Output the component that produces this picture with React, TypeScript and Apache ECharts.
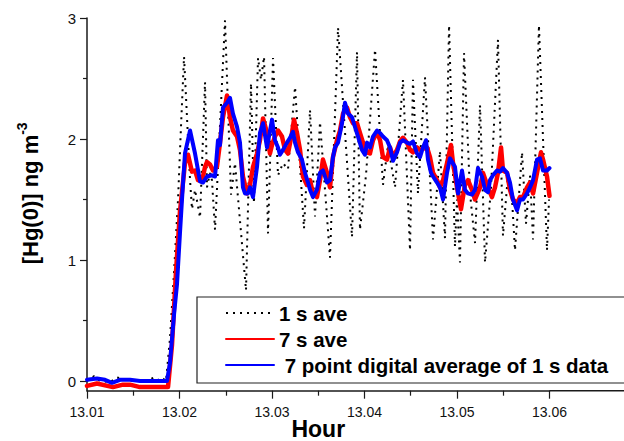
import React, { useEffect, useRef } from "react";
import * as echarts from "echarts";

// ---- 1 s data (turning points) ----
const oneSecHours = [
  13.01, 13.01076, 13.01141, 13.01249, 13.01324, 13.01411, 13.01519, 13.01627, 13.01735, 13.01789,
  13.01822, 13.01854, 13.01897, 13.01941, 13.01984, 13.02016, 13.02049, 13.02114, 13.02135, 13.02168,
  13.02222, 13.02276, 13.02297, 13.0233, 13.02351, 13.02384, 13.02492, 13.02557, 13.026, 13.02719,
  13.02773, 13.02805, 13.02849, 13.02881, 13.02914, 13.02957, 13.03011, 13.03065, 13.03119, 13.03173,
  13.03249, 13.03346, 13.03411, 13.03465, 13.03519, 13.03627, 13.03714, 13.03865, 13.03919, 13.03951,
  13.04016, 13.04114, 13.042, 13.04254, 13.0433, 13.04416, 13.04492, 13.04524, 13.04578, 13.04654,
  13.04741, 13.04816, 13.0487, 13.04914, 13.04978, 13.05, 13.05032, 13.05076, 13.05141, 13.05195,
  13.05249, 13.05303, 13.05368, 13.05443, 13.05497, 13.05551, 13.05595, 13.05627, 13.05703, 13.05746,
  13.05789, 13.05822, 13.05886, 13.05973, 13.05995,
];
const oneSecValues = [
  0.0, 0.04, 0.0, -0.01, 0.03, 0.01, 0.0, 0.0, 0.03, 0.0,
  0.02, 0.0, 0.35, 0.9, 1.5, 2.1, 2.68, 1.66, 1.42, 1.58,
  1.35, 2.47, 1.6, 1.72, 1.66, 1.25, 2.98, 1.54, 1.8, 0.75,
  2.46, 1.47, 2.67, 2.49, 2.68, 1.22, 2.67, 1.7, 1.8, 1.75,
  2.43, 1.26, 2.24, 1.36, 2.14, 1.02, 2.92, 1.19, 2.72, 1.25,
  1.7, 2.74, 1.62, 1.95, 1.6, 2.49, 1.08, 2.49, 1.55, 2.51,
  1.17, 1.9, 1.18, 2.94, 1.11, 1.5, 0.98, 2.71, 1.55, 1.14,
  2.28, 0.98, 1.6, 2.82, 1.2, 1.7, 1.5, 1.08, 1.89, 1.3,
  1.7, 1.17, 2.94, 1.08, 1.5,
];

// ---- 7 s average ----
const sevenSecHours = [
  13.01, 13.01108, 13.01281, 13.01389, 13.01465, 13.01573, 13.01876, 13.01919, 13.01962, 13.02005,
  13.02059, 13.02092, 13.02135, 13.02168, 13.022, 13.02243, 13.02276, 13.02297, 13.0233, 13.02362,
  13.02405, 13.02438, 13.0247, 13.02514, 13.02546, 13.02578, 13.02622, 13.02654, 13.02686, 13.0273,
  13.02762, 13.02795, 13.02838, 13.0287, 13.02903, 13.02946, 13.02978, 13.03, 13.03032, 13.03065,
  13.03108, 13.03141, 13.03173, 13.03216, 13.03238, 13.0327, 13.03303, 13.03335, 13.03378, 13.03411,
  13.03443, 13.03486, 13.03519, 13.03551, 13.03595, 13.03627, 13.03659, 13.03703, 13.03735, 13.03768,
  13.03811, 13.03843, 13.03876, 13.03919, 13.03951, 13.03984, 13.04027, 13.04059, 13.04092, 13.04135,
  13.04168, 13.042, 13.04243, 13.04276, 13.04308, 13.04351, 13.04384, 13.04416, 13.04459, 13.04492,
  13.04524, 13.04568, 13.046, 13.04676, 13.04708, 13.04741, 13.04784, 13.04816, 13.04849, 13.04892,
  13.04935, 13.04957, 13.05, 13.05043, 13.05086, 13.05119, 13.05162, 13.05195, 13.05249, 13.05281,
  13.05335, 13.05378, 13.05411, 13.05443, 13.05476, 13.05497, 13.05541, 13.05573, 13.05605, 13.05649,
  13.05681, 13.05714, 13.05757, 13.05789, 13.05822, 13.05865, 13.05908, 13.0593, 13.05973, 13.06,
];
const sevenSecValues = [
  -0.04, -0.02, -0.05, -0.03, -0.03, -0.05, -0.05, 0.3, 0.9, 1.4,
  1.8, 1.87, 1.73, 1.74, 1.66, 1.65, 1.77, 1.81, 1.79, 1.74,
  1.77, 1.97, 2.18, 2.36, 2.18, 2.07, 2.02, 1.91, 1.69, 1.55,
  1.62, 1.77, 1.88, 1.99, 2.17, 2.05, 1.88, 1.95, 2.02, 2.07,
  2.02, 1.91, 1.88, 2.05, 2.16, 2.05, 1.91, 1.69, 1.62, 1.66,
  1.55, 1.52, 1.66, 1.83, 1.72, 1.6, 1.85, 1.99, 2.07, 2.21,
  2.26, 2.18, 2.13, 2.13, 2.05, 1.97, 1.89, 1.88, 1.99, 2.06,
  1.99, 1.85, 1.83, 1.93, 1.85, 1.91, 1.98, 2.01, 1.97, 1.91,
  1.89, 1.93, 1.91, 1.93, 1.85, 1.72, 1.66, 1.6, 1.66, 1.8,
  1.95, 1.8, 1.6, 1.42, 1.62, 1.66, 1.58, 1.5, 1.6, 1.72,
  1.6, 1.52, 1.6, 1.72, 1.93, 1.74, 1.72, 1.58, 1.5, 1.47,
  1.52, 1.52, 1.6, 1.64, 1.55, 1.72, 1.89, 1.83, 1.69, 1.53,
];

// ---- 7 point digital average of 1 s data ----
const digitalHours = [
  13.01, 13.01108, 13.01195, 13.0127, 13.01357, 13.01465, 13.01573, 13.01865, 13.01897, 13.01941,
  13.01973, 13.02005, 13.02027, 13.02059, 13.02114, 13.02168, 13.02222, 13.02254, 13.02297, 13.02351,
  13.02384, 13.02416, 13.02438, 13.0247, 13.02514, 13.02546, 13.02578, 13.02622, 13.02654, 13.02686,
  13.02708, 13.02741, 13.02762, 13.02795, 13.02838, 13.0287, 13.02903, 13.02946, 13.03, 13.03032,
  13.03065, 13.03086, 13.03119, 13.03162, 13.03195, 13.03227, 13.03249, 13.03281, 13.03324, 13.03357,
  13.03389, 13.03411, 13.03443, 13.03486, 13.03519, 13.03551, 13.03595, 13.03627, 13.03659, 13.03681,
  13.03714, 13.03757, 13.03789, 13.03822, 13.03865, 13.03897, 13.0393, 13.03973, 13.04005, 13.04027,
  13.04059, 13.04092, 13.04135, 13.04168, 13.042, 13.04243, 13.04276, 13.04308, 13.04351, 13.04384,
  13.04416, 13.04459, 13.04492, 13.04524, 13.04568, 13.046, 13.04632, 13.04665, 13.04686, 13.04719,
  13.04741, 13.04784, 13.04816, 13.04849, 13.04892, 13.04924, 13.04978, 13.05011, 13.05054, 13.05086,
  13.05119, 13.05162, 13.05195, 13.05227, 13.0527, 13.05303, 13.05335, 13.05357, 13.05389, 13.05432,
  13.05465, 13.05497, 13.05541, 13.05573, 13.05605, 13.05649, 13.05681, 13.05714, 13.05757, 13.05789,
  13.05822, 13.05865, 13.05897, 13.0593, 13.05973, 13.06,
];
const digitalValues = [
  0.01, 0.02, 0.01, -0.015, 0.01, 0.01, 0.0, 0.0, 0.15, 0.55,
  0.8, 1.22, 1.5, 1.88, 2.07, 1.88, 1.65, 1.64, 1.69, 1.7,
  1.69, 1.99, 1.95, 2.26, 2.3, 2.34, 2.21, 2.1, 1.97, 1.6,
  1.55, 1.55, 1.6, 1.52, 1.77, 2.05, 2.13, 1.93, 2.16, 1.99,
  1.93, 1.87, 1.91, 1.97, 2.01, 2.06, 1.97, 1.89, 1.83, 1.72,
  1.64, 1.58, 1.52, 1.58, 1.72, 1.74, 1.64, 1.66, 1.85, 1.93,
  1.97, 2.13, 2.3, 2.21, 2.18, 2.1, 2.02, 1.91, 1.87, 1.97,
  1.93, 2.02, 2.07, 2.05, 2.02, 1.99, 1.93, 1.82, 1.89, 1.97,
  1.99, 1.97, 1.96, 1.98, 1.88, 1.85, 1.93, 1.99, 1.83, 1.72,
  1.69, 1.64, 1.6, 1.5, 1.72, 1.84, 1.77, 1.55, 1.74, 1.58,
  1.55, 1.54, 1.58, 1.76, 1.69, 1.58, 1.56, 1.66, 1.7, 1.74,
  1.73, 1.76, 1.72, 1.64, 1.5, 1.41, 1.5, 1.5, 1.55, 1.6,
  1.66, 1.83, 1.84, 1.74, 1.74, 1.76,
];

const xTickValues = [13.01, 13.02, 13.03, 13.04, 13.05, 13.06];
const xMinorTickValues = [13.015, 13.025, 13.035, 13.045, 13.055];
const yTickValues = [0, 1, 2, 3];
const yMinorTickValues = [0.5, 1.5, 2.5];
const seriesNames = ["1 s ave", "7 s ave", " 7 point digital average of 1 s data"];

const pairs = (xs: number[], ys: number[]) => xs.map((x, i) => [x, ys[i]]);

const FONT = '"Liberation Sans", Arial, Helvetica, sans-serif';
const AXIS = "#1a1a1a";

export default function App() {
  const ref = useRef<HTMLDivElement>(null);
  useEffect(() => {
    if (!ref.current) return;
    const chart = echarts.init(ref.current, undefined, { renderer: "svg" });
    const gridLeft = 87;
    const gridTop = 18;
    const gridRight = 74.5;
    const gridBottom = 50.3;
    const axisY = 441 - gridBottom;
    chart.setOption({
      animation: false,
      backgroundColor: "#ffffff",
      grid: {
        left: gridLeft,
        right: gridRight,
        top: gridTop,
        bottom: gridBottom,
        containLabel: false,
        outerBoundsMode: "none",
      },
      xAxis: [
        {
          type: "value",
          min: 13.01,
          max: 13.06,
          position: "bottom",
          axisLine: { show: true, onZero: false, lineStyle: { color: AXIS, width: 1.5 } },
          axisTick: { show: true, customValues: xTickValues, length: 8, lineStyle: { color: AXIS, width: 1.2 } },
          axisLabel: {
            customValues: xTickValues,
            formatter: (v: number) => v.toFixed(2),
            fontSize: 14,
            color: "#111",
            margin: 14,
            fontFamily: FONT,
          },
          splitLine: { show: false },
          name: "Hour",
          nameLocation: "middle",
          nameGap: 26,
          nameMoveOverlap: false,
          nameTextStyle: { fontSize: 23, fontWeight: "bold", color: "#000", fontFamily: FONT, lineHeight: 24 },
        },
        {
          type: "value",
          min: 13.01,
          max: 13.06,
          position: "bottom",
          axisLine: { show: false, onZero: false },
          axisTick: { show: true, customValues: xMinorTickValues, length: 5, lineStyle: { color: AXIS, width: 1.2 } },
          axisLabel: { show: false },
          splitLine: { show: false },
        },
      ],
      yAxis: [
        {
          type: "value",
          min: -0.08,
          max: 3,
          position: "left",
          axisLine: { show: true, onZero: false, lineStyle: { color: AXIS, width: 1.5 } },
          axisTick: { show: true, customValues: yTickValues, length: 7, lineStyle: { color: AXIS, width: 1.2 } },
          axisLabel: { customValues: yTickValues, fontSize: 15, color: "#111", margin: 11, fontFamily: FONT },
          splitLine: { show: false },
          name: "[Hg(0)] ng m{sup|-3}",
          nameLocation: "middle",
          nameRotate: 90,
          nameGap: 42,
          nameMoveOverlap: false,
          nameTextStyle: {
            fontSize: 22,
            fontWeight: "bold",
            color: "#000",
            fontFamily: FONT,
            lineHeight: 30,
            padding: [0, 0, 0, 22],
            rich: {
              sup: { fontSize: 14, fontWeight: "bold", color: "#000", fontFamily: FONT, lineHeight: 14, verticalAlign: "top" },
            },
          },
        },
        {
          type: "value",
          min: -0.08,
          max: 3,
          position: "left",
          axisLine: { show: false, onZero: false },
          axisTick: { show: true, customValues: yMinorTickValues, length: 4, lineStyle: { color: AXIS, width: 1.2 } },
          axisLabel: { show: false },
          splitLine: { show: false },
        },
      ],
      legend: {
        orient: "vertical",
        left: 197,
        top: 297,
        data: seriesNames,
        itemWidth: 48,
        itemHeight: 14,
        itemGap: 4,
        padding: [5, 60, 7, 28],
        backgroundColor: "#ffffff",
        borderColor: "#222",
        borderWidth: 1.2,
        borderRadius: 0,
        selectedMode: false,
        itemStyle: { opacity: 0 },
        textStyle: { fontSize: 20.5, fontWeight: "bold", color: "#000", fontFamily: FONT, lineHeight: 22 },
      },
      graphic: [
        {
          type: "line",
          z: 10,
          shape: { x1: 624 - gridRight, y1: axisY, x2: 624, y2: axisY },
          style: { stroke: AXIS, lineWidth: 1.5 },
        },
      ],
      series: [
        {
          name: seriesNames[0],
          type: "line",
          data: pairs(oneSecHours, oneSecValues),
          symbol: "none",
          showSymbol: false,
          lineStyle: { color: "#000", width: 2, type: [2, 5] },
          itemStyle: { color: "#000" },
          z: 2,
        },
        {
          name: seriesNames[1],
          type: "line",
          data: pairs(sevenSecHours, sevenSecValues),
          symbol: "none",
          showSymbol: false,
          lineStyle: { color: "#ff0000", width: 4.5, join: "round", cap: "round" },
          itemStyle: { color: "#ff0000" },
          z: 3,
        },
        {
          name: seriesNames[2],
          type: "line",
          data: pairs(digitalHours, digitalValues),
          symbol: "none",
          showSymbol: false,
          lineStyle: { color: "#0000ff", width: 4, join: "round", cap: "round" },
          itemStyle: { color: "#0000ff" },
          z: 4,
        },
      ],
    });
    return () => chart.dispose();
  }, []);
  return (
    <div
      ref={ref}
      style={{ position: "fixed", left: 0, top: 0, width: 624, height: 441, background: "#fff" }}
    />
  );
}
